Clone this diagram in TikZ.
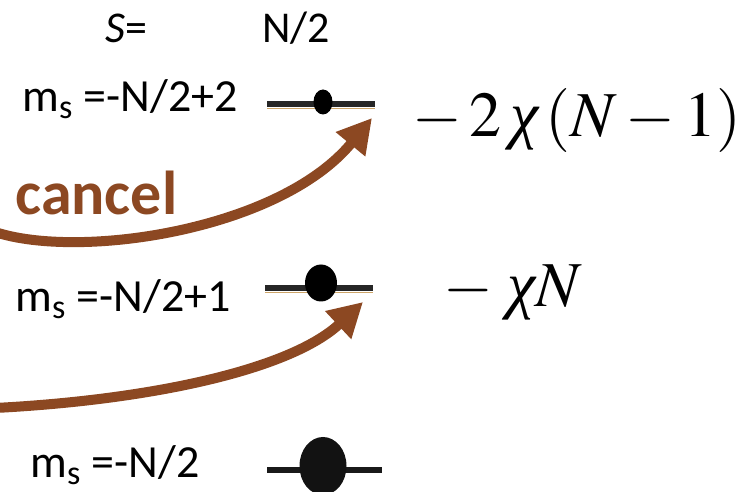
\documentclass[tikz,border=0pt]{standalone}
\usepackage{mathptmx}
\usepackage[no-math]{fontspec}
\setmainfont{Carlito}
\newfontfamily\libserif{Liberation Serif}
\usepackage{tikz}
\usetikzlibrary{arrows.meta,shapes.geometric}
\definecolor{cancelbrown}{RGB}{140,72,34}
\definecolor{leveltan}{RGB}{205,165,105}
\newcommand{\chiit}{\mbox{\libserif\itshape χ}}

\begin{document}
\begin{tikzpicture}[x=0.5pt, y=-0.5pt,
    lab/.style={font=\fontsize{23}{27}\selectfont, anchor=base west, inner sep=0pt},
    head/.style={font=\fontsize{22}{26}\selectfont, anchor=base west, inner sep=0pt},
    energy/.style={font=\fontsize{32}{37}\selectfont, anchor=base west, inner sep=0pt},
    level/.style={line width=3pt, black!85},
    levelrim/.style={line width=0.8pt, leveltan},
    dot/.style={ellipse, fill=black, inner sep=0pt},
    arr/.style={draw=cancelbrown, line width=5pt, -{Triangle[length=17pt,width=18pt]}}]
  \useasboundingbox (0,0) rectangle (741,492);
  % column heads
  \node[head] (shead) at (105,43) {\textit{S}=};
  \node[head] (nhead) at (262,43) {N/2};
  % level labels
  \node[lab] (m2) at (22,112) {m\textsubscript{s} =-N/2+2};
  \node[lab] (m1) at (15,312) {m\textsubscript{s} =-N/2+1};
  \node[lab] (m0) at (30,478) {m\textsubscript{s} =-N/2};
  % levels
  \coordinate (l2w) at (267,104); \coordinate (l2e) at (375,104);
  \coordinate (l1w) at (265,288); \coordinate (l1e) at (373,288);
  \coordinate (l0w) at (267,470); \coordinate (l0e) at (382,470);
  \draw[levelrim] ([yshift=-2.2pt]l2w) -- ([yshift=-2.2pt]l2e);
  \draw[level] (l2w) -- (l2e);
  \draw[levelrim] ([yshift=-2.2pt]l1w) -- ([yshift=-2.2pt]l1e);
  \draw[level] (l1w) -- (l1e);
  \draw[level, line width=2.8pt, black!90] (l0w) -- (l0e);
  \node[dot, minimum width=9.5pt, minimum height=12.5pt] (d2) at (323,102) {};
  \node[dot, minimum width=16pt, minimum height=18.5pt] (d1) at (321,283) {};
  \node[dot, fill=black!93, minimum width=23.5pt, minimum height=29pt] (d0) at (323,466) {};
  % energies
  \node[energy] (e2) at (412,137) {$-\,2\:\chiit\,(N-1)$};
  \node[energy] (e1) at (443,307) {$-\;\chiit N$};
  % transfers
  \coordinate (a2s) at (-5,232); \coordinate (a2e) at (372,118);
  \coordinate (a1s) at (-5,408); \coordinate (a1e) at (363,302);
  \draw[arr] (a2s) .. controls (80,260) and (280,230) .. (a2e);
  \draw[arr] (a1s) .. controls (150,400) and (290,370) .. (a1e);
  \node[font=\fontsize{31}{36}\selectfont\bfseries, text=cancelbrown, anchor=base west, inner sep=0pt] (cancel) at (15,215) {cancel};
\end{tikzpicture}
\end{document}
